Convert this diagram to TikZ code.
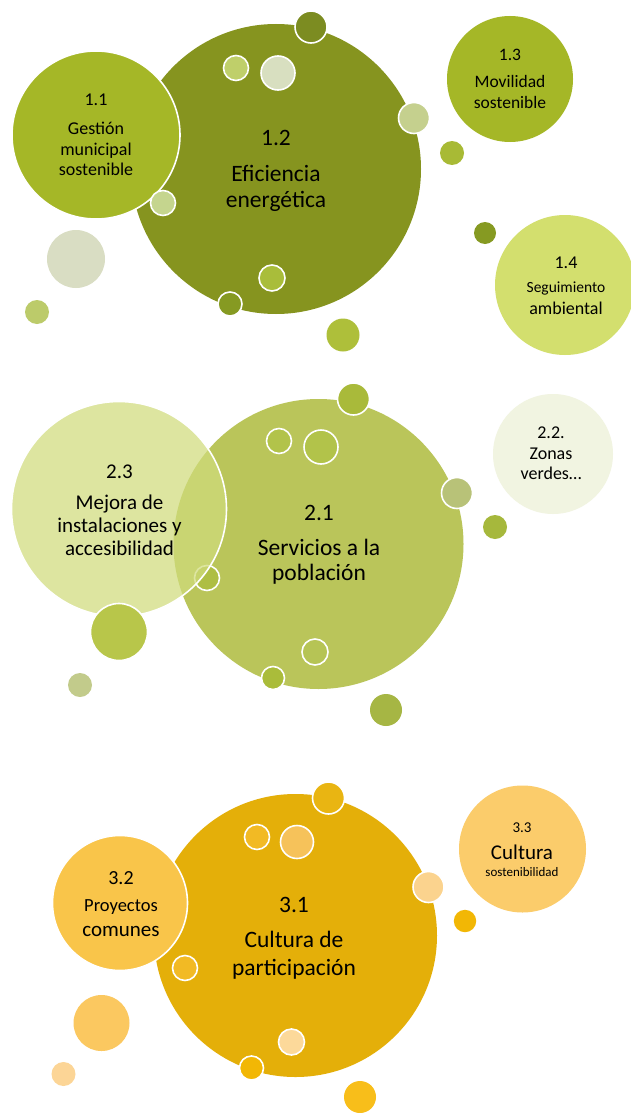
\documentclass[tikz,border=0pt]{standalone}
\usepackage{fontspec}
\setmainfont{Carlito}
\newcommand\bub[5][]{\definecolor{bubcol}{HTML}{#5}\fill[bubcol,#1] (#2,#3) circle[radius=#4];}
\newcommand\lbl[5]{\node[txt] (#1) at (#2,#3) {\fontsize{#4}{#4}\selectfont #5};}
\definecolor{sagepale}{HTML}{D0DC7C}
\begin{document}
\begin{tikzpicture}[x=1pt,y=-1pt,
  ring/.style={draw=white,line width=1.6pt},
  txt/.style={anchor=base,inner sep=0pt,text=black}]
\useasboundingbox (0,0) rectangle (630,1113);
\fill[white] (0,0) rectangle (630,1113);

% ---------------- group 1 ----------------
\bub{276}{169}{145}{86941F}
\bub{510}{79}{63}{A5B727}
\bub{565}{285}{70}{D3DF6E}
\bub{76}{259}{29}{D9DDC3}
\bub{37}{312}{12}{BCCB6A}
\bub{452}{153}{12}{A8BA35}
\bub{485}{233}{11}{869A22}
\bub{343}{335}{16.5}{AEBF3A}
\bub[ring]{311}{27}{16}{7C8C21}
\bub[ring]{236}{68}{12.5}{BFCF6A}
\bub[ring]{278}{73}{17}{D8DFC0}
\bub[ring]{414}{118}{15.5}{C5D08E}
\bub[ring]{272}{278}{13}{A9BD3A}
\bub[ring]{230}{304}{12}{869A22}
\bub[ring]{96}{135}{84}{A5B727}
\bub[ring]{163}{203}{12.5}{C5D58E}

\lbl{t11a}{96}{106}{18}{1.1}
\lbl{t11b}{96}{135}{18}{Gestión}
\lbl{t11c}{96}{155}{18}{municipal}
\lbl{t11d}{96}{175.5}{18}{sostenible}
\lbl{t12a}{276}{146}{23.5}{1.2}
\lbl{t12b}{276}{181}{23.5}{Eficiencia}
\lbl{t12c}{276}{207}{23.5}{energética}
\lbl{t13a}{510}{61}{17.5}{1.3}
\lbl{t13b}{510}{88}{17.5}{Movilidad}
\lbl{t13c}{510}{109}{17.5}{sostenible}
\lbl{t14a}{566}{268}{18}{1.4}
\lbl{t14b}{566}{292.5}{15.5}{Seguimiento}
\lbl{t14c}{566}{314}{18}{ambiental}

% ---------------- group 2 ----------------
\bub{318.5}{544}{145}{BAC55A}
\bub{553}{454}{60}{F1F4E1}
\bub{80}{685}{12}{C2CB8B}
\bub{495}{527}{12}{A6B83C}
\bub{386}{710}{16}{A6B644}
\bub[ring]{353.5}{399}{16}{A9BA3A}
\bub[ring]{279}{441}{12.5}{B2C34A}
\bub[ring]{321}{447}{17}{B2C34A}
\bub[ring]{457}{493}{15.5}{B8C278}
\bub[ring]{315}{652}{13}{B6C455}
\bub[ring]{273}{678}{11.5}{AABC3A}
\bub[ring]{207}{578}{12.5}{AEBE44}
\fill[sagepale,fill opacity=0.72] (119,509) circle[radius=107.5];
\draw[white,line width=1.6pt] (119,509) circle[radius=107.5];
\bub[ring]{119}{632}{28.5}{B8C64A}

\lbl{t23a}{119.5}{478}{21}{2.3}
\lbl{t23b}{119.5}{509}{21}{Mejora de}
\lbl{t23c}{119.5}{532}{21}{instalaciones y}
\lbl{t23d}{119.5}{555.5}{21}{accesibilidad}
\lbl{t21a}{319}{520}{23.5}{2.1}
\lbl{t21b}{319}{555}{23.5}{Servicios a la}
\lbl{t21c}{319}{580.5}{23.5}{población}
\lbl{t22a}{551}{438}{18}{2.2.}
\lbl{t22b}{551}{459}{18}{Zonas}
\lbl{t22c}{551}{479}{18}{verdes…}

% ---------------- group 3 ----------------
\bub{295.5}{935.5}{141.5}{E4AF09}
\bub{522.5}{849}{63.5}{FBCC6B}
\bub{465}{921}{11.2}{F2B705}
\bub{101.5}{1023}{28}{FBC860}
\bub{63.5}{1074}{12}{FCD596}
\bub{360}{1097}{16}{F8BE1A}
\bub[ring]{328.5}{798}{16}{E9B512}
\bub[ring]{257}{837}{12.5}{F2BA24}
\bub[ring]{297}{842}{16.5}{F6C25A}
\bub[ring]{428.5}{887}{15.5}{FBD38E}
\bub[ring]{291.5}{1042}{13}{FCD99A}
\bub[ring]{251.5}{1068}{12}{F2B705}
\bub[ring]{120}{903}{67.5}{F9C54A}
\bub[ring]{185}{968}{12.5}{F2BA24}

\lbl{t32a}{121}{884}{20}{3.2}
\lbl{t32b}{121}{911.5}{18.5}{Proyectos}
\lbl{t32c}{121}{936}{21}{comunes}
\lbl{t31a}{294}{912.5}{23.5}{3.1}
\lbl{t31b}{294}{947.5}{23.5}{Cultura de}
\lbl{t31c}{294}{975}{23.5}{participación}
\lbl{t33a}{522}{832.5}{15}{3.3}
\lbl{t33b}{522}{859}{21}{Cultura}
\lbl{t33c}{522}{876.5}{13}{sostenibilidad}
\end{tikzpicture}
\end{document}
